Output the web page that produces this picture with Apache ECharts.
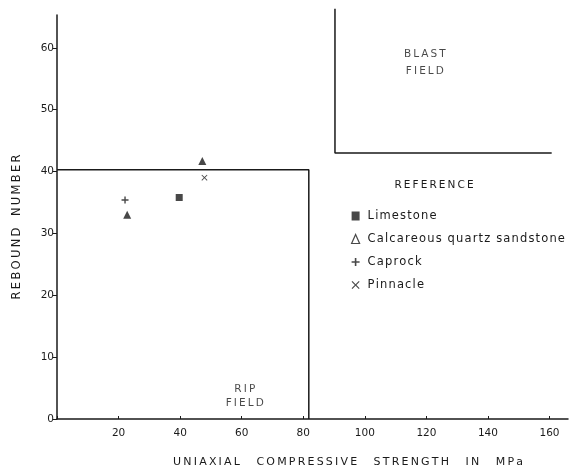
<!DOCTYPE html>
<html>
<head>
<meta charset="utf-8">
<script src="https://cdn.jsdelivr.net/npm/echarts@6/dist/echarts.min.js"></script>
<style>
html,body{margin:0;padding:0;background:#fff;}
#main{width:576px;height:465px;}
</style>
</head>
<body>
<div id="main"></div>
<script>
// ---- data ----
const seriesNames = ['Limestone', 'Calcareous quartz sandstone', 'Caprock', 'Pinnacle'];
const limestone = [[39.7, 35.8]];
const sandstone = [[47.2, 41.7], [22.8, 33.0]];
const caprock = [[22.1, 35.4]];
const pinnacle = [[47.9, 39.0]];
const ripField = [[0, 40.3], [81.8, 40.3], [81.8, 0]];
const blastField = [[90.3, 66.3], [90.3, 43.0], [160.7, 43.0]];
const ripLabel = [[61, 3.6]];
const blastLabel = [[119.5, 57.6]];
const xTitle = 'UNIAXIAL COMPRESSIVE STRENGTH IN MPa';
const yTitle = 'REBOUND NUMBER';

function spaced(s, gap) {
  return s.split(' ').map(w => w.split('').join('\u2009')).join(gap || '\u2002\u2002');
}
function airy(s) {
  return s.split('').join('\u200A');
}

const FONT = 'DejaVu Sans';
const INK = '#1a1a1a';
const plusPath = 'path://M4,0H6V4H10V6H6V10H4V6H0V4H4Z';
const crossPath = 'path://M1,0L5,4L9,0L10,1L6,5L10,9L9,10L5,6L1,10L0,9L4,5L0,1Z';

const chart = echarts.init(document.getElementById('main'), null, {renderer: 'canvas'});
const option = {
  animation: false,
  backgroundColor: '#fff',
  grid: {left: 57, right: 8, top: 15, bottom: 46, containLabel: false, outerBoundsMode: 'none'},
  xAxis: {
    type: 'value', min: 0, max: 166, interval: 20,
    axisLine: {show: true, lineStyle: {color: INK, width: 1.5}},
    axisTick: {show: true, length: 3, inside: true, lineStyle: {color: INK}},
    splitLine: {show: false},
    axisLabel: {
      color: INK, fontFamily: FONT, fontSize: 10.5, margin: 9,
      showMaxLabel: false,
      formatter: v => (v === 0 ? '' : String(v))
    },
    name: spaced(xTitle, '\u2003\u2002'),
    nameLocation: 'middle',
    nameGap: 38,
    nameTextStyle: {color: INK, fontFamily: FONT, fontSize: 11, padding: [0, 0, 0, 71]}
  },
  yAxis: {
    type: 'value', min: 0, max: 65.3, interval: 10,
    axisLine: {show: true, lineStyle: {color: INK, width: 1.5}},
    axisTick: {show: true, length: 4, lineStyle: {color: INK}},
    splitLine: {show: false},
    axisLabel: {color: INK, fontFamily: FONT, fontSize: 10.5, margin: 3, showMaxLabel: false},
    name: spaced(yTitle, '\u2003'),
    nameLocation: 'middle',
    nameGap: 34,
    nameRotate: 90,
    nameTextStyle: {color: INK, fontFamily: FONT, fontSize: 11.5, padding: [0, 20, 0, 0]}
  },
  legend: {
    orient: 'vertical',
    left: 346, top: 205,
    itemWidth: 8, itemHeight: 9, itemGap: 11,
    textStyle: {color: INK, fontFamily: FONT, fontSize: 11.5, padding: [0, 0, 0, 3]},
    formatter: name => airy(name),
    data: [
      {name: seriesNames[0], icon: 'rect'},
      {name: seriesNames[1], icon: 'triangle', itemStyle: {color: '#fff', borderColor: INK, borderWidth: 1.2}},
      {name: seriesNames[2], icon: plusPath},
      {name: seriesNames[3], icon: crossPath}
    ]
  },
  graphic: [{
    type: 'text', x: 434, y: 185,
    style: {text: spaced('REFERENCE'), fill: INK, font: '10.5px "DejaVu Sans"', align: 'center', verticalAlign: 'middle'}
  }],
  series: [
    {
      name: seriesNames[0], type: 'scatter', data: limestone,
      symbol: 'rect', symbolSize: 7, itemStyle: {color: INK}
    },
    {
      name: seriesNames[1], type: 'scatter', data: sandstone,
      symbol: 'triangle', symbolSize: 8, itemStyle: {color: INK}
    },
    {
      name: seriesNames[2], type: 'scatter', data: caprock,
      symbol: plusPath, symbolSize: 7, itemStyle: {color: INK}
    },
    {
      name: seriesNames[3], type: 'scatter', data: pinnacle,
      symbol: crossPath, symbolSize: 6, itemStyle: {color: INK}
    },
    {
      name: 'rip', type: 'line', data: ripField, symbol: 'none', clip: false, silent: true,
      lineStyle: {color: INK, width: 1.5}
    },
    {
      name: 'blast', type: 'line', data: blastField, symbol: 'none', clip: false, silent: true,
      lineStyle: {color: INK, width: 1.5}
    },
    {
      name: 'ripText', type: 'scatter', data: ripLabel, symbolSize: 0, silent: true,
      label: {show: true, position: 'inside', formatter: spaced('RIP') + '\n' + spaced('FIELD'),
        color: INK, fontFamily: FONT, fontSize: 10.5, lineHeight: 14, align: 'center'}
    },
    {
      name: 'blastText', type: 'scatter', data: blastLabel, symbolSize: 0, silent: true,
      label: {show: true, position: 'inside', formatter: spaced('BLAST') + '\n' + spaced('FIELD'),
        color: INK, fontFamily: FONT, fontSize: 10.5, lineHeight: 17, align: 'center'}
    }
  ]
};
chart.setOption(option);
</script>
</body>
</html>
